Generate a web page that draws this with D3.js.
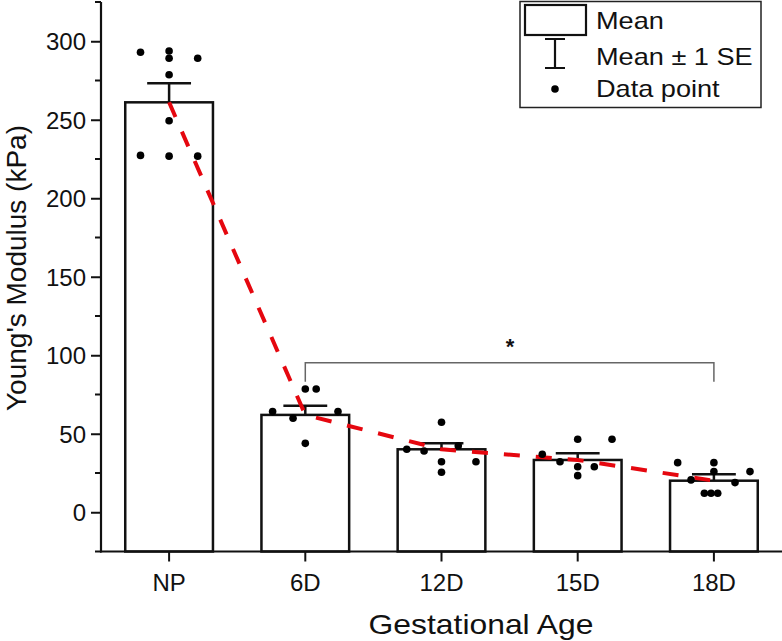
<!DOCTYPE html>
<html><head><meta charset="utf-8">
<script src="https://cdn.jsdelivr.net/npm/d3@7/dist/d3.min.js"></script>
<style>body{margin:0;background:#fff}svg{display:block}text{font-family:"Liberation Sans",Arial,sans-serif;fill:#111}</style>
</head><body>
<script>
const categories = ["NP", "6D", "12D", "15D", "18D"];
const means = [261.1, 62.0, 40.1, 33.3, 20.1];
const stdErr = [12.1, 5.9, 3.8, 4.3, 4.1];
const yTicks = [0, 50, 100, 150, 200, 250, 300];
const yMinorTicks = [-25, 25, 75, 125, 175, 225, 275, 325];
const pointsNP = [293.0, 293.8, 289.2, 289.2, 278.7, 249.4, 227.3, 226.8, 226.8];
const jitterNP = [-0.21, 0, 0, 0.21, 0, 0, -0.21, 0, 0.21];
const points6D = [64.1, 59.9, 78.5, 78.5, 43.9, 64.1];
const jitter6D = [-0.24, -0.09, 0, 0.08, 0, 0.24];
const points12D = [40.1, 39.0, 57.3, 32.2, 25.5, 42.4, 32.2];
const jitter12D = [-0.255, -0.128, 0, 0, 0, 0.123, 0.253];
const points15D = [36.9, 32.2, 46.5, 29.0, 23.3, 29.0, 46.5];
const jitter15D = [-0.26, -0.13, 0, 0, 0, 0.122, 0.252];
const points18D = [31.6, 20.6, 31.6, 25.9, 12.1, 12.1, 12.1, 18.9, 25.9];
const jitter18D = [-0.266, -0.168, 0, 0, -0.07, -0.021, 0.028, 0.155, 0.265];
const bracketFrom = "6D", bracketTo = "18D", bracketTop = 95.3, bracketFoot = 83.2;
const bracketLabel = "*";
const xTitle = "Gestational Age";
const yTitle = "Young's Modulus (kPa)";
const legendLabels = ["Mean", "Mean \u00B1 1 SE", "Data point"];

const pointSets = [[pointsNP, jitterNP], [points6D, jitter6D], [points12D, jitter12D], [points15D, jitter15D], [points18D, jitter18D]];

const W = 782, H = 641;
const svg = d3.select("body").append("svg").attr("width", W).attr("height", H);

const x = d3.scaleBand().domain(categories).range([101, 782]).paddingInner(0.356).paddingOuter(0.178);
const y = d3.scaleLinear().domain([-25, 325]).range([551.5, 2]);
const cx = c => x(c) + x.bandwidth() / 2;
const step = x.step();

function stretchText(sel, sx) {
  sel.each(function () {
    const t = d3.select(this);
    const tx = +t.attr("x") || 0, ty = +t.attr("y") || 0;
    t.attr("x", null).attr("y", null).attr("transform", `translate(${tx},${ty}) scale(${sx},1)`);
  });
}

// bars
svg.append("g").selectAll("rect").data(categories).join("rect")
  .attr("x", c => x(c)).attr("width", x.bandwidth())
  .attr("y", (c, i) => y(means[i])).attr("height", (c, i) => y(-25) - y(means[i]))
  .attr("fill", "#fff").attr("stroke", "#111").attr("stroke-width", 2.5);

// error bars (upper half)
const capW = x.bandwidth() / 2;
const eb = svg.append("g").attr("stroke", "#111").attr("stroke-width", 2.5);
categories.forEach((c, i) => {
  eb.append("line").attr("x1", cx(c)).attr("x2", cx(c)).attr("y1", y(means[i])).attr("y2", y(means[i] + stdErr[i]));
  eb.append("line").attr("x1", cx(c) - capW / 2).attr("x2", cx(c) + capW / 2).attr("y1", y(means[i] + stdErr[i])).attr("y2", y(means[i] + stdErr[i]));
});

// dashed trend line
const line = d3.line().x((d, i) => cx(categories[i])).y(d => y(d));
svg.append("path").attr("d", line(means)).attr("fill", "none").attr("stroke", "#e5070f")
  .attr("stroke-width", 4).attr("stroke-dasharray", "16,16");

// data points
const pg = svg.append("g").attr("fill", "#000");
pointSets.forEach(([vals, jit], i) => {
  pg.selectAll(null).data(vals).join("circle")
    .attr("cx", (v, j) => cx(categories[i]) + jit[j] * step)
    .attr("cy", v => y(v)).attr("r", 3.8);
});

// significance bracket
svg.append("path")
  .attr("d", `M${cx(bracketFrom)},${y(bracketFoot)}V${y(bracketTop)}H${cx(bracketTo)}V${y(bracketFoot)}`)
  .attr("fill", "none").attr("stroke", "#666").attr("stroke-width", 1.5);
svg.append("text").attr("x", (cx(bracketFrom) + cx(bracketTo)) / 2 + 0.5).attr("y", y(bracketTop) - 9)
  .attr("text-anchor", "middle").attr("font-size", 22).attr("font-weight", "bold").text(bracketLabel);

// y axis
const yAxis = svg.append("g").attr("transform", "translate(101,0)")
  .call(d3.axisLeft(y).tickValues(yTicks).tickSize(10).tickPadding(8).tickFormat(d3.format("d")));
yAxis.select(".domain").remove();
yAxis.selectAll(".tick line").attr("stroke", "#111").attr("stroke-width", 2);
yAxis.selectAll(".tick text").attr("font-size", 24).attr("font-family", null).attr("dy", "0.35em").attr("x", -15);
svg.append("g").selectAll("line").data(yMinorTicks).join("line")
  .attr("x1", 95).attr("x2", 101).attr("y1", d => y(d)).attr("y2", d => y(d))
  .attr("stroke", "#111").attr("stroke-width", 2);
svg.append("line").attr("x1", 101).attr("x2", 101).attr("y1", y(325)).attr("y2", y(-25) + 1)
  .attr("stroke", "#111").attr("stroke-width", 2.2);

// x axis
const xAxis = svg.append("g").attr("transform", `translate(0,${y(-25)})`)
  .call(d3.axisBottom(x).tickSize(10).tickPadding(12));
xAxis.select(".domain").remove();
xAxis.selectAll(".tick line").attr("stroke", "#111").attr("stroke-width", 2);
xAxis.selectAll(".tick text").attr("font-size", 24).attr("font-family", null).attr("dy", "0.71em");
svg.append("line").attr("x1", 100).attr("x2", 782).attr("y1", y(-25)).attr("y2", y(-25))
  .attr("stroke", "#111").attr("stroke-width", 2.2);

// axis titles
svg.append("text").attr("x", 481).attr("y", 634).attr("text-anchor", "middle").attr("font-size", 27)
  .text(xTitle).call(stretchText, 1.18);
svg.append("text").attr("transform", "translate(26,268) rotate(-90)").attr("text-anchor", "middle")
  .attr("font-size", 28).text(yTitle);

// legend
const lg = svg.append("g");
lg.append("rect").attr("x", 520).attr("y", 1.5).attr("width", 241).attr("height", 106)
  .attr("fill", "#fff").attr("stroke", "#222").attr("stroke-width", 1.5);
lg.append("rect").attr("x", 525).attr("y", 5).attr("width", 61).attr("height", 30)
  .attr("fill", "#fff").attr("stroke", "#111").attr("stroke-width", 2.2);
lg.append("path").attr("d", "M545,39H565M555,39V68M545,68H565").attr("stroke", "#111").attr("stroke-width", 2.2).attr("fill", "none");
lg.append("circle").attr("cx", 555).attr("cy", 89).attr("r", 3.8).attr("fill", "#000");
const legY = [29.3, 65, 97];
lg.selectAll("text.leg").data(legendLabels).join("text").attr("class", "leg")
  .attr("x", 596).attr("y", (d, i) => legY[i]).attr("font-size", 23).text(d => d)
  .call(stretchText, 1.18);
</script>
</body></html>
